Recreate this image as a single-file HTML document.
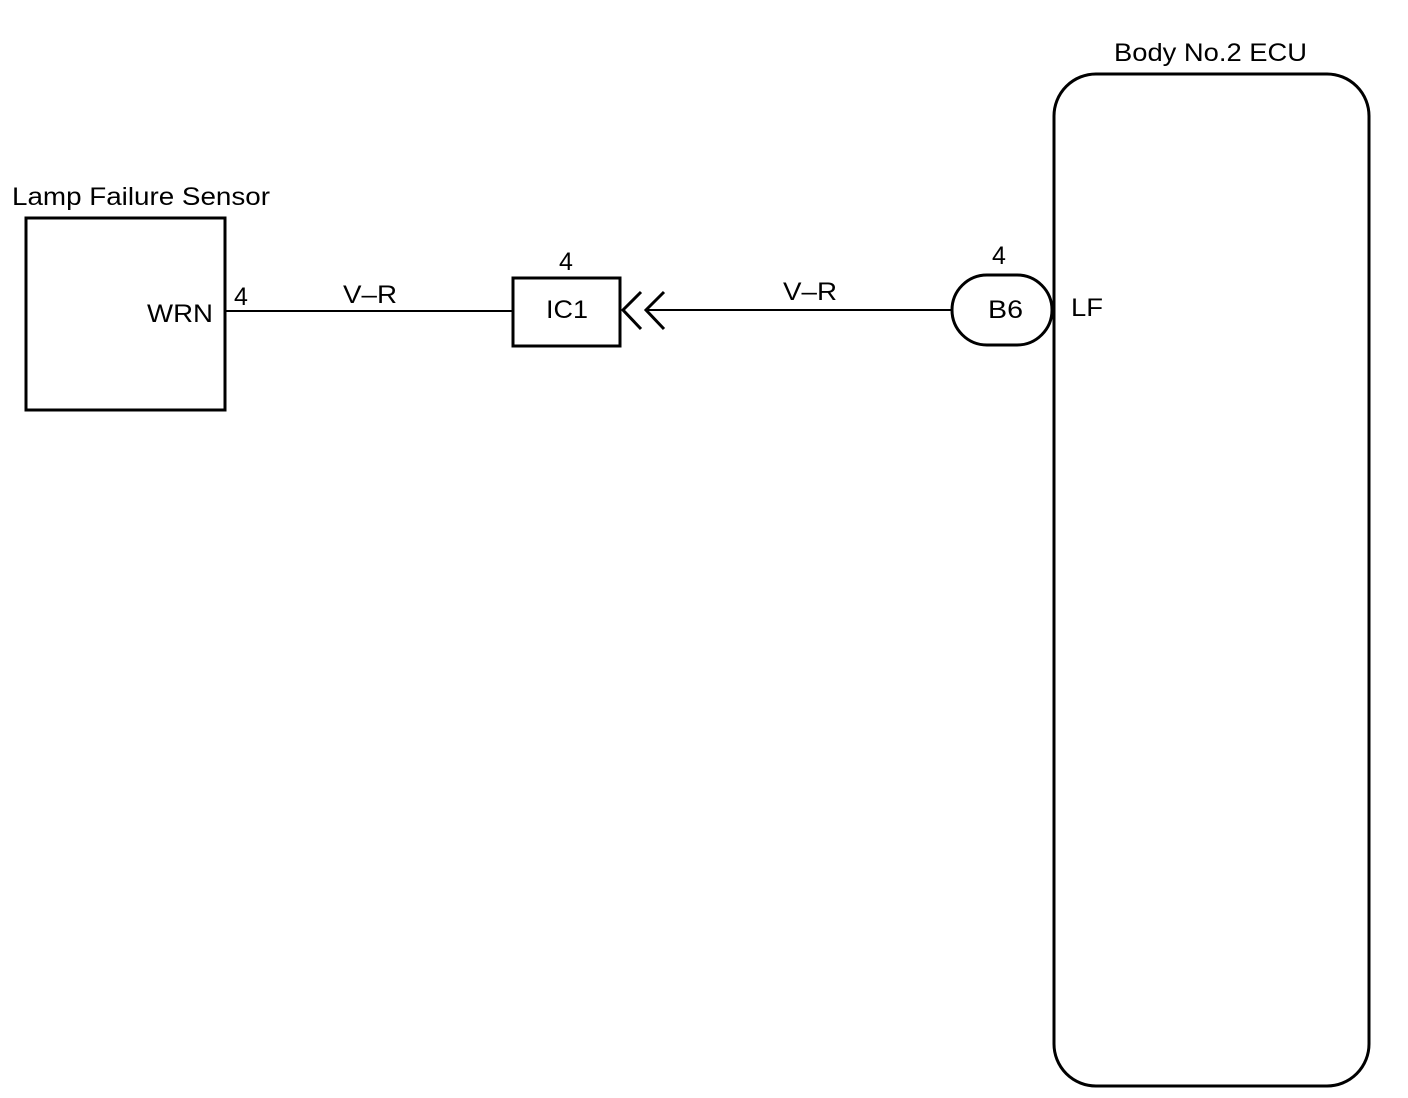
<!DOCTYPE html>
<html><head><style>body{margin:0;background:#fff}svg{display:block}text{font-family:"Liberation Sans",sans-serif;font-size:25px;fill:#000}</style></head>
<body>
<svg width="1408" height="1098" viewBox="0 0 1408 1098">
<g fill="none" stroke="#000">
<rect x="26" y="218" width="199" height="192" stroke-width="3"/>
<rect x="1054" y="74" width="315" height="1012" rx="42" stroke-width="3"/>
<rect x="513" y="278" width="107" height="68" stroke-width="3"/>
<path d="M952 310 A35 35 0 0 1 987 275 L1017 275 A35 35 0 0 1 1052 310 A35 35 0 0 1 1017 345 L987 345 A35 35 0 0 1 952 310 Z" stroke-width="3"/>
<line x1="225" y1="311" x2="513" y2="311" stroke-width="2"/>
<line x1="646" y1="310" x2="952" y2="310" stroke-width="2"/>
<polyline points="641,292 623,310 641,329" stroke-width="3"/>
<polyline points="664,292 646,310 664,329" stroke-width="3"/>
</g>
<text x="12" y="205" textLength="258" lengthAdjust="spacingAndGlyphs">Lamp Failure Sensor</text>
<text x="1114" y="61" textLength="193" lengthAdjust="spacingAndGlyphs">Body No.2 ECU</text>
<text x="147" y="322" textLength="66" lengthAdjust="spacingAndGlyphs">WRN</text>
<text x="234" y="305">4</text>
<text x="343" y="303" textLength="54" lengthAdjust="spacingAndGlyphs">V–R</text>
<text x="559" y="270">4</text>
<text x="546" y="318" textLength="42" lengthAdjust="spacingAndGlyphs">IC1</text>
<text x="783" y="300" textLength="54" lengthAdjust="spacingAndGlyphs">V–R</text>
<text x="992" y="264">4</text>
<text x="988" y="318" textLength="35" lengthAdjust="spacingAndGlyphs">B6</text>
<text x="1071" y="316" textLength="32" lengthAdjust="spacingAndGlyphs">LF</text>
</svg>
</body></html>
